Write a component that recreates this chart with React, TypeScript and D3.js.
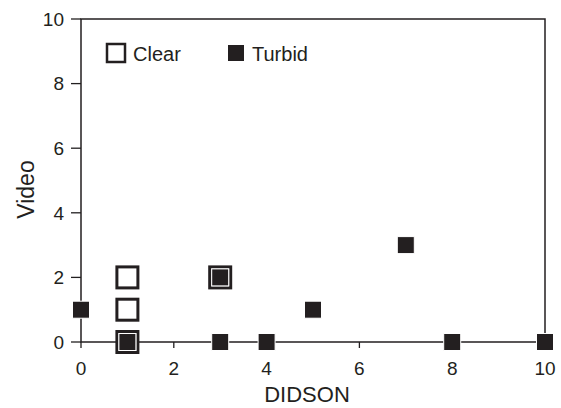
import React from 'react';
import * as d3 from 'd3';

// DIDSON counts (x) vs video counts (y)
const clearX = [1, 1, 1, 3];
const clearY = [0, 1, 2, 2];
const turbidX = [0, 1, 3, 3, 4, 5, 7, 8, 10];
const turbidY = [1, 0, 2, 0, 0, 1, 3, 0, 0];
const xTicks = [0, 2, 4, 6, 8, 10];
const yTicks = [0, 2, 4, 6, 8, 10];

const W = 561;
const H = 408;
const m = { left: 81, right: 16, top: 19, bottom: 66 };

const xScale = d3.scaleLinear().domain([0, 10]).range([m.left, W - m.right]);
const yScale = d3.scaleLinear().domain([0, 10]).range([H - m.bottom, m.top]);

const font = 'Liberation Sans, Arial, Helvetica, sans-serif';
const ink = '#231f20';

export default function App() {
  const x0 = xScale(0), x1 = xScale(10);
  const y0 = yScale(0), y1 = yScale(10);
  const openSize = 21;
  const fillSize = 17;
  return (
    <svg width={W} height={H} style={{ position: 'absolute', left: 0, top: 0, background: '#fff' }}>
      {/* frame */}
      <path d={`M${x0},${y1}H${x1}V${y0}H${x0}Z`} fill="none" stroke={ink} strokeWidth={1.5} />
      {yTicks.map((t) => (
        <g key={'y' + t}>
          <line x1={x0 - 10} x2={x0} y1={yScale(t)} y2={yScale(t)} stroke={ink} strokeWidth={1.3} />
          <text x={x0 - 17} y={yScale(t)} dy="0.36em" textAnchor="end" fontSize={19} fontFamily={font} fill={ink}>{t}</text>
        </g>
      ))}
      {xTicks.map((t) => (
        <g key={'x' + t}>
          <line x1={xScale(t)} x2={xScale(t)} y1={y0} y2={y0 + 6} stroke={ink} strokeWidth={1.3} />
          <text x={xScale(t)} y={y0 + 33} textAnchor="middle" fontSize={19} fontFamily={font} fill={ink}>{t}</text>
        </g>
      ))}
      <text x={(x0 + x1) / 2 - 6} y={402} textAnchor="middle" fontSize={22} fontFamily={font} fill={ink}>DIDSON</text>
      <text transform={`translate(34,${(y0 + y1) / 2 + 9}) rotate(-90)`} textAnchor="middle" fontSize={23} fontFamily={font} fill={ink}>Video</text>

      {clearX.map((d, i) => (
        <rect key={'c' + i} x={xScale(d) - openSize / 2} y={yScale(clearY[i]) - openSize / 2} width={openSize} height={openSize}
          fill="#fff" stroke={ink} strokeWidth={3} />
      ))}
      {turbidX.map((d, i) => (
        <rect key={'t' + i} x={xScale(d) - fillSize / 2} y={yScale(turbidY[i]) - fillSize / 2} width={fillSize} height={fillSize}
          fill={ink} stroke="#fff" strokeWidth={1} />
      ))}

      {/* legend */}
      <rect x={107} y={44} width={18} height={18} fill="#fff" stroke={ink} strokeWidth={2.5} />
      <text x={133} y={61} fontSize={20} fontFamily={font} fill={ink}>Clear</text>
      <rect x={228} y={45} width={16} height={16} fill={ink} />
      <text x={252} y={61} fontSize={20} fontFamily={font} fill={ink}>Turbid</text>
    </svg>
  );
}
